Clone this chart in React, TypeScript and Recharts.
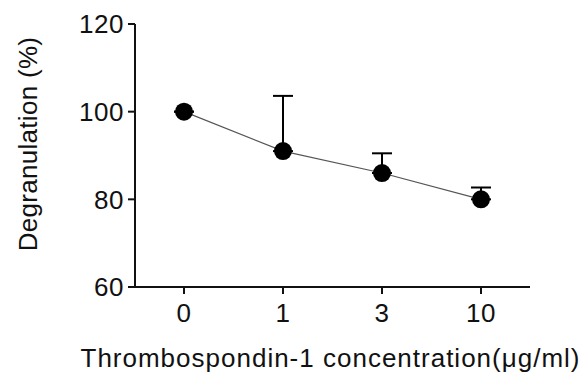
import React from 'react';
import { LineChart, Line, XAxis, YAxis, ErrorBar, Label } from 'recharts';

const doses = ['0', '1', '3', '10'];
const degranulation = [100, 91, 86, 80];
const semUpper = [0, 12.6, 4.5, 2.7];
const yTicks = [60, 80, 100, 120];

const data = doses.map((dose, i) => ({
  dose,
  value: degranulation[i],
  err: [0, semUpper[i]],
}));

const font = '"Liberation Sans", Arial, sans-serif';
const tickStyle = { fill: '#111', fontSize: 26, fontFamily: font, letterSpacing: 0.5 };

const YTitle = () => {
  const cx = 28;
  const cy = 144;
  return (
    <text
      x={cx}
      y={cy}
      transform={`rotate(-90 ${cx} ${cy})`}
      textAnchor="middle"
      dominantBaseline="central"
      fontSize={26}
      letterSpacing={0.3}
      fontFamily={font}
      fill="#111"
    >
      Degranulation (%)
    </text>
  );
};

const XTitle = (props: any) => {
  const vb = props.viewBox;
  return (
    <text
      x={vb.x + vb.width / 2 - 2}
      y={367}
      textAnchor="middle"
      fontSize={26}
      letterSpacing={1}
      fontFamily={font}
      fill="#111"
    >
      Thrombospondin-1 concentration(μg/ml)
    </text>
  );
};

const App: React.FC = () => {
  return (
    <div style={{ position: 'absolute', left: 0, top: 0, background: '#fff' }}>
      <LineChart width={583} height={378} data={data} margin={{ top: 24, right: 53, left: 0, bottom: 0 }}>
        <XAxis
          dataKey="dose"
          height={91}
          padding={{ left: 49, right: 49 }}
          stroke="#111"
          strokeWidth={2}
          tickSize={7}
          tickMargin={10}
          tick={tickStyle}
        >
          <Label content={<XTitle />} />
        </XAxis>
        <YAxis
          width={135}
          domain={[60, 120]}
          ticks={yTicks}
          stroke="#111"
          strokeWidth={2}
          tickSize={7}
          tickMargin={4}
          tick={tickStyle}
        >
          <Label content={<YTitle />} />
        </YAxis>
        <Line
          dataKey="value"
          stroke="#555"
          strokeWidth={1.2}
          dot={{ r: 9, fill: '#000', stroke: '#000', strokeWidth: 0 }}
          isAnimationActive={false}
        >
          <ErrorBar dataKey="err" width={10} stroke="#000" strokeWidth={2} direction="y" />
        </Line>
      </LineChart>
    </div>
  );
};

export default App;
